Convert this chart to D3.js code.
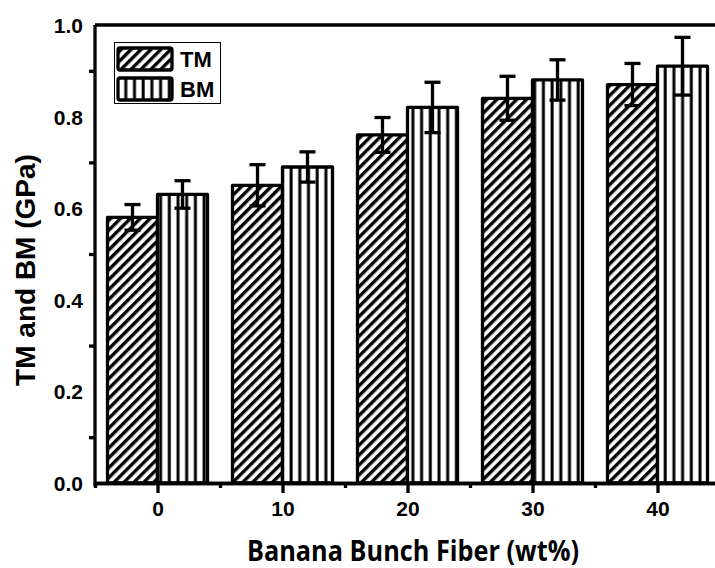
<!DOCTYPE html>
<html>
<head>
<meta charset="utf-8">
<title>TM and BM</title>
<script src="https://cdn.jsdelivr.net/npm/d3@7"></script>
<style>
  body { margin: 0; background: #fff; }
</style>
</head>
<body>
<svg id="chart" width="715" height="568"></svg>
<script>
// data
var fiber = [0, 10, 20, 30, 40];
var tmVals = [0.58, 0.65, 0.76, 0.84, 0.87];
var tmErr = [0.028, 0.045, 0.038, 0.048, 0.046];
var bmVals = [0.63, 0.69, 0.82, 0.88, 0.91];
var bmErr = [0.030, 0.033, 0.055, 0.044, 0.063];
var yMajor = [0, 0.2, 0.4, 0.6, 0.8, 1.0];
var yMinor = [0.1, 0.3, 0.5, 0.7, 0.9];
var xMinor = [-5, 5, 15, 25, 35, 45];
var seriesNames = ["TM", "BM"];

var svg = d3.select("#chart");
var x = d3.scaleLinear().domain([-5, 45]).range([95, 720]);
var y = d3.scaleLinear().domain([0, 1]).range([483, 25]);
var barW = 4;
var labelFont = "Liberation Sans, Arial, sans-serif";

var defs = svg.append("defs");
var p1 = defs.append("pattern")
  .attr("id", "diag").attr("patternUnits", "userSpaceOnUse")
  .attr("width", 7).attr("height", 7)
  .attr("patternTransform", "rotate(45)");
p1.append("rect").attr("width", 7).attr("height", 7).attr("fill", "#fff");
p1.append("line").attr("x1", 1.7).attr("x2", 1.7).attr("y1", 0).attr("y2", 7)
  .attr("stroke", "#000").attr("stroke-width", 3.4);

var p2 = defs.append("pattern")
  .attr("id", "vert").attr("patternUnits", "userSpaceOnUse")
  .attr("width", 8.7).attr("height", 10);
p2.append("rect").attr("width", 8.7).attr("height", 10).attr("fill", "#fff");
p2.append("line").attr("x1", 4).attr("x2", 4).attr("y1", 0).attr("y2", 10)
  .attr("stroke", "#000").attr("stroke-width", 3);

var fills = ["url(#diag)", "url(#vert)"];

// bars
var rows = fiber.map(function(f, i) {
  return [
    {x0: f - barW, v: tmVals[i], e: tmErr[i], s: 0},
    {x0: f, v: bmVals[i], e: bmErr[i], s: 1}
  ];
});
var flat = [].concat.apply([], rows);

svg.append("g").selectAll("rect")
  .data(flat).enter().append("rect")
  .attr("x", function(d) { return x(d.x0); })
  .attr("y", function(d) { return y(d.v); })
  .attr("width", function(d) { return x(d.x0 + barW) - x(d.x0); })
  .attr("height", function(d) { return y(0) - y(d.v); })
  .attr("fill", function(d) { return fills[d.s]; })
  .attr("stroke", "#000").attr("stroke-width", 3.3)
  .attr("stroke-linejoin", "round");

// error bars
var eb = svg.append("g").attr("stroke", "#000").attr("stroke-width", 3.3);
flat.forEach(function(d) {
  var cx = x(d.x0 + barW / 2);
  eb.append("line").attr("x1", cx).attr("x2", cx)
    .attr("y1", y(d.v - d.e)).attr("y2", y(d.v + d.e));
  [d.v - d.e, d.v + d.e].forEach(function(t) {
    eb.append("line").attr("x1", cx - 8).attr("x2", cx + 8)
      .attr("y1", y(t)).attr("y2", y(t));
  });
});

// x axis
var xAxisMajor = svg.append("g")
  .attr("transform", "translate(0," + y(0) + ")")
  .call(d3.axisBottom(x).tickValues(fiber).tickSize(10).tickSizeOuter(0).tickPadding(8));
var xAxisMinor = svg.append("g")
  .attr("transform", "translate(0," + y(0) + ")")
  .call(d3.axisBottom(x).tickValues(xMinor).tickSize(5).tickSizeOuter(0).tickFormat(""));
[xAxisMajor, xAxisMinor].forEach(function(g) {
  g.selectAll("path, line").attr("stroke", "#000").attr("stroke-width", 3.3);
});
xAxisMajor.attr("font-size", 21).attr("font-family", labelFont).attr("font-weight", "bold");
xAxisMajor.selectAll("text").attr("fill", "#000");

// y axis
var yLab = svg.append("g")
  .attr("transform", "translate(" + x(-5) + ",0)")
  .call(d3.axisLeft(y).tickValues(yMajor).tickSize(0).tickPadding(12).tickFormat(d3.format(".1f")));
yLab.select("path").remove();
yLab.attr("font-size", 21).attr("font-family", labelFont).attr("font-weight", "bold");
yLab.selectAll("text").attr("fill", "#000").attr("dy", "0.36em");
var yMin = svg.append("g")
  .attr("transform", "translate(" + x(-5) + ",0)")
  .call(d3.axisLeft(y).tickValues(yMinor).tickSize(6).tickSizeOuter(0).tickFormat(""));
yMin.selectAll("path, line").attr("stroke", "#000").attr("stroke-width", 3.3);
yMin.select("path").attr("d", "M0," + (y(0) + 3) + "V" + y(1));

// top frame
svg.append("line")
  .attr("x1", x(-5)).attr("x2", x(45)).attr("y1", y(1)).attr("y2", y(1))
  .attr("stroke", "#000").attr("stroke-width", 3.3);

// legend
var lg = svg.append("g");
lg.append("rect").attr("x", 114.5).attr("y", 42.5).attr("width", 106).attr("height", 61)
  .attr("fill", "#fff").attr("stroke", "#000").attr("stroke-width", 1);
seriesNames.forEach(function(name, i) {
  var ty = 48 + i * 30;
  lg.append("rect").attr("x", 118).attr("y", ty).attr("width", 54).attr("height", 22)
    .attr("rx", 2).attr("fill", fills[i]).attr("stroke", "#000").attr("stroke-width", 3.3)
    .attr("stroke-linejoin", "round");
  lg.append("text").attr("x", 180).attr("y", ty + 19)
    .attr("font-family", labelFont).attr("font-weight", "bold")
    .attr("font-size", 22).text(name);
});

// axis titles
svg.append("text")
  .attr("transform", "translate(35,270) rotate(-90)")
  .attr("text-anchor", "middle")
  .attr("font-family", labelFont).attr("font-weight", "bold")
  .attr("font-size", 28).text("TM and BM (GPa)");

svg.append("text")
  .attr("x", 413).attr("y", 561)
  .attr("text-anchor", "middle")
  .attr("font-family", "Open Sans, sans-serif").attr("font-weight", "bold")
  .attr("font-size", 28).attr("textLength", 332).attr("lengthAdjust", "spacingAndGlyphs")
  .text("Banana Bunch Fiber (wt%)");
</script>
</body>
</html>
